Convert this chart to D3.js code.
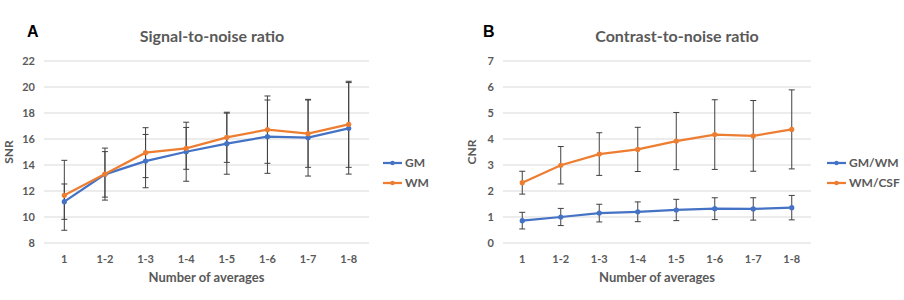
<!DOCTYPE html>
<html>
<head>
<meta charset="utf-8">
<script src="https://cdn.jsdelivr.net/npm/d3@7"></script>
<style>
  body { margin: 0; background: #fff; }
  text { font-family: Lato, "Open Sans", sans-serif; }
</style>
</head>
<body>
<div id="chart"></div>
<script>
// categories (number of averaged scans)
const categories = ["1", "1-2", "1-3", "1-4", "1-5", "1-6", "1-7", "1-8"];

// SNR panel
const snrGM = [11.18, 13.28, 14.3, 15.02, 15.64, 16.18, 16.1, 16.82];
const snrGMErr = [1.36, 1.75, 2.05, 2.27, 2.35, 2.82, 2.95, 3.52];
const snrWM = [11.67, 13.3, 14.95, 15.28, 16.13, 16.72, 16.41, 17.13];
const snrWMErr = [2.69, 2.0, 1.92, 1.61, 1.93, 2.59, 2.59, 3.31];
const snrTicks = [8, 10, 12, 14, 16, 18, 20, 22];

// CNR panel
const cnrGW = [0.86, 1.0, 1.15, 1.2, 1.27, 1.32, 1.31, 1.36];
const cnrGWErr = [0.32, 0.33, 0.34, 0.38, 0.41, 0.42, 0.43, 0.47];
const cnrWC = [2.32, 2.99, 3.42, 3.6, 3.92, 4.17, 4.12, 4.37];
const cnrWCErr = [0.44, 0.72, 0.82, 0.85, 1.1, 1.34, 1.36, 1.52];
const cnrTicks = [0, 1, 2, 3, 4, 5, 6, 7];

const blue = "#4472c4", orange = "#ed7d31", textGray = "#595959";

const svg = d3.select("#chart").append("svg")
    .attr("width", 904)
    .attr("height", 300);

function panel(opts) {
    const g = svg.append("g");

    const x = d3.scaleBand()
        .domain(categories)
        .range([opts.left, opts.right]);

    const y = d3.scaleLinear()
        .domain(d3.extent(opts.ticks))
        .range([243, 61]);

    // gridlines
    g.selectAll(".grid")
        .data(opts.ticks)
        .enter().append("line")
        .attr("x1", opts.left)
        .attr("x2", opts.right)
        .attr("y1", d => y(d))
        .attr("y2", d => y(d))
        .attr("stroke", "#d9d9d9")
        .attr("stroke-width", 1);

    // y tick labels
    g.selectAll(".ytick")
        .data(opts.ticks)
        .enter().append("text")
        .attr("x", opts.left - 9)
        .attr("y", d => y(d))
        .attr("dy", "0.35em")
        .attr("text-anchor", "end")
        .style("font-size", "11px")
        .style("font-weight", "bold")
        .attr("fill", textGray)
        .text(d => d);

    // x tick labels
    g.selectAll(".xtick")
        .data(categories)
        .enter().append("text")
        .attr("x", d => x(d) + x.bandwidth() / 2)
        .attr("y", 263)
        .attr("text-anchor", "middle")
        .style("font-size", "11px")
        .style("font-weight", "bold")
        .attr("fill", textGray)
        .text(d => d);

    // axis titles
    g.append("text")
        .attr("x", (opts.left + opts.right) / 2)
        .attr("y", 282)
        .attr("text-anchor", "middle")
        .style("font-size", "13px")
        .style("font-weight", "bold")
        .attr("fill", textGray)
        .text("Number of averages");

    g.append("text")
        .attr("transform", `translate(${opts.yLabelX},152) rotate(-90)`)
        .attr("text-anchor", "middle")
        .style("font-size", "12px")
        .style("font-weight", "bold")
        .attr("fill", textGray)
        .text(opts.yLabel);

    // chart title and panel letter
    g.append("text")
        .attr("x", opts.titleX)
        .attr("y", 42)
        .attr("text-anchor", "middle")
        .style("font-size", "16px")
        .style("font-weight", "bold")
        .attr("fill", textGray)
        .text(opts.title);

    g.append("text")
        .attr("x", opts.letterX)
        .attr("y", 37)
        .style("font-family", "Liberation Sans, Arial, sans-serif")
        .style("font-size", "16px")
        .style("font-weight", "bold")
        .attr("fill", "#000")
        .text(opts.letter);

    const cx = d => x(d) + x.bandwidth() / 2;

    opts.series.forEach(s => {
        const pts = categories.map((c, i) => ({c: c, v: s.values[i], e: s.err[i]}));

        // error bars
        const eb = g.append("g");
        eb.selectAll("line.bar")
            .data(pts)
            .enter().append("line")
            .attr("class", "bar")
            .attr("x1", d => cx(d.c))
            .attr("x2", d => cx(d.c))
            .attr("y1", d => y(d.v - d.e))
            .attr("y2", d => y(d.v + d.e))
            .attr("stroke", "#404040")
            .attr("stroke-width", 1);
        [1, -1].forEach(sign => {
            eb.append("g").selectAll("line")
                .data(pts)
                .enter().append("line")
                .attr("x1", d => cx(d.c) - 3)
                .attr("x2", d => cx(d.c) + 3)
                .attr("y1", d => y(d.v + sign * d.e))
                .attr("y2", d => y(d.v + sign * d.e))
                .attr("stroke", "#404040")
                .attr("stroke-width", 1);
        });
    });

    opts.series.forEach(s => {
        const pts = categories.map((c, i) => ({c: c, v: s.values[i]}));
        const line = d3.line().x(d => cx(d.c)).y(d => y(d.v));
        const sg = g.append("g");
        sg.append("path")
            .datum(pts)
            .attr("d", line)
            .attr("fill", "none")
            .attr("stroke", s.color)
            .attr("stroke-width", 2.25);
        sg.selectAll("circle")
            .data(pts)
            .enter().append("circle")
            .attr("cx", d => cx(d.c))
            .attr("cy", d => y(d.v))
            .attr("r", 2.6)
            .attr("fill", s.color);
    });

    // legend
    const legend = g.append("g")
        .attr("transform", `translate(${opts.legendX},163)`);
    const items = legend.selectAll("g")
        .data(opts.series)
        .enter().append("g")
        .attr("transform", (d, i) => `translate(0,${i * 20})`);
    items.append("line")
        .attr("x1", 0).attr("x2", 19)
        .attr("stroke", d => d.color)
        .attr("stroke-width", 2.25);
    items.append("circle")
        .attr("cx", 9.5).attr("r", 2.2)
        .attr("fill", d => d.color);
    items.append("text")
        .attr("x", 22)
        .attr("dy", "0.35em")
        .style("font-size", "12px")
        .style("font-weight", "bold")
        .attr("fill", textGray)
        .text(d => d.name);
}

panel({
    left: 44, right: 369, ticks: snrTicks,
    yLabel: "SNR", yLabelX: 13,
    title: "Signal-to-noise ratio", titleX: 212,
    letter: "A", letterX: 27,
    legendX: 383,
    series: [
        {name: "GM", values: snrGM, err: snrGMErr, color: blue},
        {name: "WM", values: snrWM, err: snrWMErr, color: orange}
    ]
});

panel({
    left: 503, right: 811, ticks: cnrTicks,
    yLabel: "CNR", yLabelX: 476,
    title: "Contrast-to-noise ratio", titleX: 677,
    letter: "B", letterX: 483,
    legendX: 827,
    series: [
        {name: "GM/WM", values: cnrGW, err: cnrGWErr, color: blue},
        {name: "WM/CSF", values: cnrWC, err: cnrWCErr, color: orange}
    ]
});
</script>
</body>
</html>
